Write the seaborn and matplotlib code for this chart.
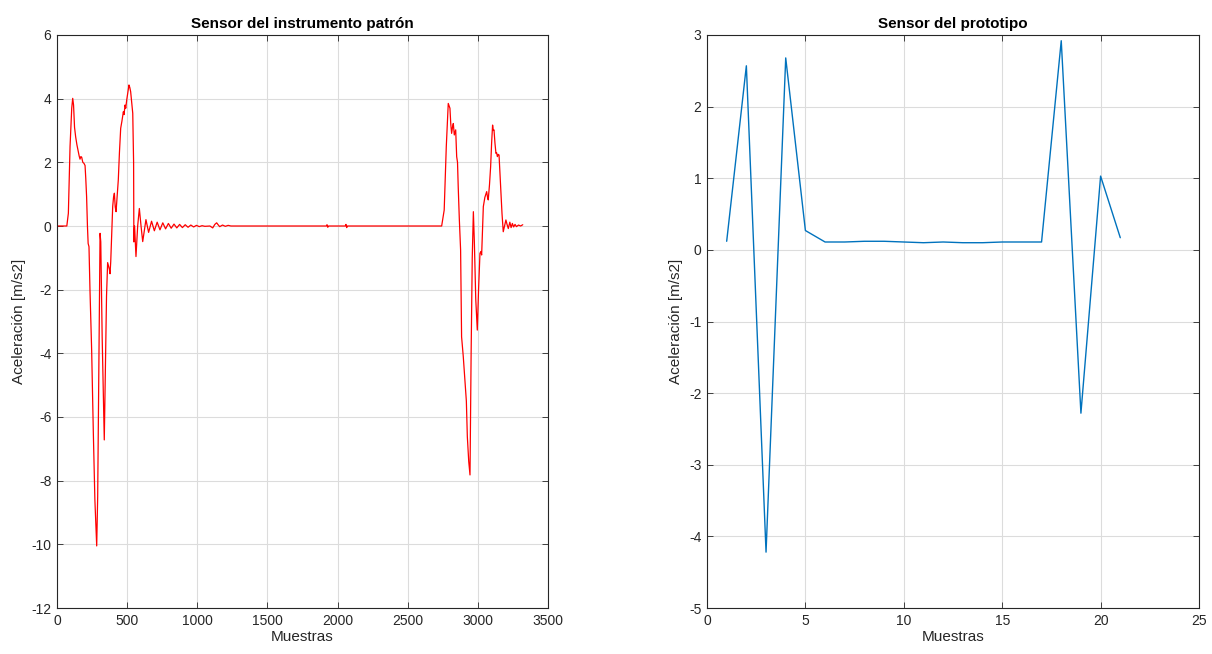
import numpy as np
import pandas as pd
import matplotlib
matplotlib.use("Agg")
import matplotlib.pyplot as plt
import seaborn as sns

# ---- Data ----
muestras_patron = [0, 70, 81, 93, 105, 112, 118, 125, 133, 142, 152, 158, 164, 170, 176, 184, 192, 200,
                   205, 211, 217, 222, 228, 235, 247, 259, 270, 283, 290, 298, 307, 312, 322, 337, 345,
                   353, 361, 367, 373, 378, 383, 394, 397, 403, 409, 415, 421, 428, 437, 445, 454, 463,
                   473, 478, 485, 490, 497, 505, 513, 519, 525, 532, 540, 546, 548, 553, 558, 563, 575,
                   587, 599, 611, 634, 653, 674, 694, 714, 734, 754, 774, 794, 814, 834, 854, 874, 894,
                   914, 934, 954, 974, 994, 1014, 1034, 1054, 1090, 1110, 1125, 1138, 1150, 1160, 1180,
                   1200, 1220, 1240, 1920, 1925, 1930, 1935, 2055, 2060, 2065, 2070, 2742, 2760, 2775,
                   2789, 2801, 2807, 2813, 2819, 2825, 2832, 2842, 2849, 2855, 2860, 2868, 2877, 2884,
                   2896, 2908, 2918, 2925, 2935, 2944, 2952, 2960, 2968, 2975, 2985, 2996, 3005, 3015,
                   3021, 3027, 3039, 3050, 3063, 3069, 3074, 3083, 3091, 3098, 3105, 3110, 3115, 3122,
                   3129, 3134, 3139, 3145, 3151, 3157, 3163, 3172, 3181, 3190, 3200, 3208, 3217, 3228,
                   3237, 3246, 3255, 3265, 3275, 3290, 3305, 3320]
acel_patron = [0.0, 0.0, 0.4, 2.5, 3.7, 4.01, 3.8, 3.1, 2.8, 2.55, 2.33, 2.2, 2.1, 2.18, 2.16, 2.0, 1.97, 1.9,
               1.5, 0.92, 0.0, -0.55, -0.65, -2.0, -3.9, -6.5, -8.6, -10.05, -8.5, -4.5, -0.23, -0.5, -3.5, -6.72, -4.5,
               -2.2, -1.15, -1.25, -1.35, -1.5, -1.12, 0.2, 0.61, 0.9, 1.03, 0.6, 0.45, 0.9, 1.45, 2.3, 3.07, 3.3,
               3.59, 3.5, 3.8, 3.7, 3.96, 4.2, 4.43, 4.35, 4.22, 3.9, 3.54, 2.0, -0.5, 0.0, -0.5, -0.96, 0.0,
               0.55, 0.0, -0.49, 0.2, -0.2, 0.15, -0.15, 0.12, -0.12, 0.1, -0.09, 0.08, -0.07, 0.06, -0.06, 0.05, -0.05,
               0.04, -0.04, 0.03, -0.03, 0.02, -0.02, 0.01, -0.01, 0.0, -0.06, 0.05, 0.1, 0.03, -0.02, 0.03,
               -0.01, 0.02, 0.0, 0.0, 0.04, -0.04, 0.0, 0.0, 0.05, -0.05, 0.0, 0.0, 0.5, 2.5,
               3.85, 3.70, 3.2, 2.91, 3.1, 3.22, 2.86, 3.02, 2.18, 2.0, 1.23, 0.2, -0.75, -3.48,
               -4.1, -4.84, -5.5, -6.62, -7.4, -7.82, -4.0, -1.0, 0.45, -0.5, -2.3, -3.27, -2.0, -0.86,
               -0.8, -0.91, 0.61, 0.9, 1.08, 0.9, 0.82, 1.3, 1.86, 2.6, 3.17, 3.0, 3.02, 2.6,
               2.28, 2.3, 2.18, 2.25, 2.23, 1.7, 1.13, 0.4, -0.18, 0.0, 0.19, 0.05, -0.08, 0.12,
               -0.05, 0.08, -0.03, 0.05, -0.02, 0.03, 0.0, 0.04]

muestras_proto = list(range(1, 22))
acel_proto = [0.12, 2.57, -4.22, 2.68, 0.27, 0.11, 0.11, 0.12, 0.12, 0.11, 0.10, 0.11, 0.10, 0.10,
              0.11, 0.11, 0.11, 2.92, -2.28, 1.03, 0.17]

titulo_izq = "Sensor del instrumento patrón"
titulo_der = "Sensor del prototipo"
xlabel = "Muestras"
ylabel = "Aceleración [m/s2]"

# ---- Style ----
sns.set_theme(style="whitegrid")
plt.rcParams['font.family'] = ['Liberation Sans', 'DejaVu Sans']
plt.rcParams['axes.unicode_minus'] = False

W, H = 1212, 654
fig = plt.figure(figsize=(W / 100, H / 100), dpi=100)
ax1 = fig.add_axes([57 / W, (H - 608) / H, 491 / W, 573 / H])
ax2 = fig.add_axes([707 / W, (H - 608) / H, 492 / W, 573 / H])

df1 = pd.DataFrame({"x": muestras_patron, "y": acel_patron})
df2 = pd.DataFrame({"x": muestras_proto, "y": acel_proto})

sns.lineplot(data=df1, x="x", y="y", ax=ax1, color="#ff0000", linewidth=0.9,
             estimator=None, sort=False)
sns.lineplot(data=df2, x="x", y="y", ax=ax2, color="#0072BD", linewidth=1.0,
             estimator=None, sort=False)

ax1.set_xlim(0, 3500)
ax1.set_ylim(-12, 6)
ax1.set_xticks(np.arange(0, 3501, 500))
ax1.set_yticks(np.arange(-12, 7, 2))
ax2.set_xlim(0, 25)
ax2.set_ylim(-5, 3)
ax2.set_xticks(np.arange(0, 26, 5))
ax2.set_yticks(np.arange(-5, 4, 1))

for ax, t in ((ax1, titulo_izq), (ax2, titulo_der)):
    ax.set_facecolor("white")
    ax.grid(True, color="#dcdcdc", linewidth=0.8)
    for s in ax.spines.values():
        s.set_visible(True)
        s.set_color("#262626")
        s.set_linewidth(0.8)
    ax.tick_params(direction="in", length=4, width=0.6, colors="#262626",
                   labelsize=10, top=True, right=True, bottom=True, left=True,
                   labelcolor="#262626", pad=4)
    ax.set_title(t, fontsize=11, fontweight="bold", color="black", pad=5)
    ax.set_xlabel(xlabel, fontsize=11, color="#262626", labelpad=2)
    ax.set_ylabel(ylabel, fontsize=11, color="#262626", labelpad=4)

fig.savefig("out.png", dpi=100, facecolor="white")
